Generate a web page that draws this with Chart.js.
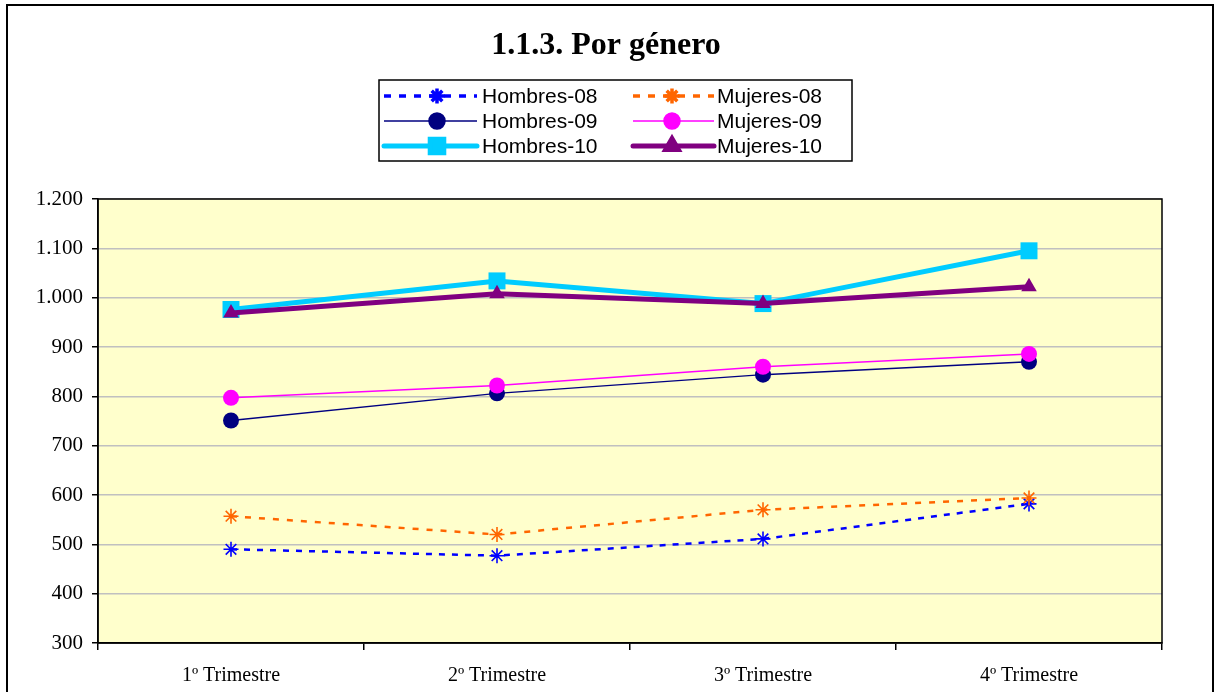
<!DOCTYPE html>
<html>
<head>
<meta charset="utf-8">
<script src="https://cdn.jsdelivr.net/npm/chart.js@4"></script>
<style>
  html, body { margin: 0; padding: 0; background: #fff; overflow: hidden; }
  #wrap { position: relative; width: 1222px; height: 692px; }
  #frame { position: absolute; left: 6px; top: 4px; width: 1208px; height: 700px; border: 2px solid #000; box-sizing: border-box; pointer-events: none; }
  canvas { position: absolute; left: 0; top: 0; }
</style>
</head>
<body>
<div id="wrap">
  <canvas id="chart" width="1222" height="692"></canvas>
  <div id="frame"></div>
</div>
<script>
/* ── datos ─────────────────────────────────────────────────── */
const trimestres = ['1º Trimestre', '2º Trimestre', '3º Trimestre', '4º Trimestre'];
const hombres08 = [490, 477, 511, 582];
const mujeres08 = [557, 520, 570, 594];
const hombres09 = [751, 806, 844, 870];
const mujeres09 = [797, 822, 860, 886];
const hombres10 = [976, 1034, 988, 1095];
const mujeres10 = [969, 1008, 988, 1022];

const C = {
    plotBg: '#FFFFCC',
    grid:   '#C0C0C0',
    axis:   '#000000',
};

const serif = "'Liberation Serif', 'Times New Roman', serif";
const sans  = "'Liberation Sans', Arial, sans-serif";

function fmtMiles(v) {
    return String(v).replace(/\B(?=(\d{3})+(?!\d))/g, '.');
}

/* ── series ────────────────────────────────────────────────── */
const series = [
    { label: 'Hombres-08', data: hombres08, color: '#0000FF', width: 2.5, dash: [6, 7], style: 'star',     r: 7.5, pbw: 1.6 },
    { label: 'Mujeres-08', data: mujeres08, color: '#FF6600', width: 2.5, dash: [6, 8], style: 'star',     r: 7.5, pbw: 1.6 },
    { label: 'Hombres-09', data: hombres09, color: '#000080', width: 1.5, dash: [],     style: 'circle',   r: 8,   pbw: 0 },
    { label: 'Mujeres-09', data: mujeres09, color: '#FF00FF', width: 1.5, dash: [],     style: 'circle',   r: 8,   pbw: 0 },
    { label: 'Hombres-10', data: hombres10, color: '#00CCFF', width: 5,   dash: [],     style: 'rect',     r: 12,  pbw: 0 },
    { label: 'Mujeres-10', data: mujeres10, color: '#800080', width: 5,   dash: [],     style: 'triangle', r: 9,   pbw: 0 },
];

/* ── plugin: fondo, marco, título y leyenda ────────────────── */
const excelLook = {
    id: 'excelLook',
    beforeDraw(chart) {
        const { ctx, chartArea: a } = chart;
        ctx.save();
        ctx.fillStyle = C.plotBg;
        ctx.fillRect(a.left, a.top, a.right - a.left, a.bottom - a.top);
        ctx.restore();
    },
    beforeDatasetsDraw(chart) {
        const { ctx, chartArea: a } = chart;
        ctx.save();
        ctx.strokeStyle = C.axis;
        ctx.lineWidth = 1.5;
        ctx.strokeRect(a.left, a.top, a.right - a.left, a.bottom - a.top);
        ctx.restore();
    },
    afterDraw(chart) {
        const ctx = chart.ctx;
        ctx.save();
        // título
        ctx.fillStyle = '#000';
        ctx.font = "bold 32px " + serif;
        ctx.textAlign = 'center';
        ctx.textBaseline = 'middle';
        ctx.fillText('1.1.3. Por género', 606, 46);

        // leyenda
        const box = { x: 379, y: 80, w: 473, h: 81 };
        ctx.fillStyle = '#fff';
        ctx.fillRect(box.x, box.y, box.w, box.h);
        ctx.strokeStyle = '#000';
        ctx.lineWidth = 1.5;
        ctx.strokeRect(box.x, box.y, box.w, box.h);

        const cols = [
            { x0: 384, x1: 477, mx: 437, tx: 482 },
            { x0: 633, x1: 714, mx: 672, tx: 717 },
        ];
        const rows = [96, 121, 146];
        ctx.font = "21px " + sans;
        ctx.textAlign = 'left';
        series.forEach((s, i) => {
            const col = cols[i % 2], y = rows[Math.floor(i / 2)];
            ctx.save();
            ctx.strokeStyle = s.color;
            ctx.lineWidth = s.width === 2.5 ? 3.5 : s.width;
            ctx.lineCap = s.width >= 5 ? 'round' : 'butt';
            ctx.setLineDash(s.dash.length ? [7, 8] : []);
            ctx.beginPath();
            ctx.moveTo(col.x0, y);
            ctx.lineTo(col.x1, y);
            ctx.stroke();
            ctx.setLineDash([]);
            ctx.fillStyle = s.color;
            ctx.strokeStyle = s.color;
            const k = (s.style === 'rect' || s.style === 'triangle') ? 0.8 : 1;
            Chart.helpers.drawPoint(ctx, {
                pointStyle: s.style, radius: s.r * k, rotation: 0,
                borderWidth: s.pbw || 0.01,
            }, col.mx, y);
            ctx.restore();
            ctx.fillStyle = '#000';
            ctx.textBaseline = 'middle';
            ctx.fillText(s.label, col.tx, y + 1);
        });
        ctx.restore();
    }
};

/* ── gráfico ───────────────────────────────────────────────── */
const ctx = document.getElementById('chart').getContext('2d');

new Chart(ctx, {
    type: 'line',
    data: {
        labels: trimestres,
        datasets: series.map((s, i) => ({
            label: s.label,
            data: s.data,
            borderColor: s.color,
            backgroundColor: s.color,
            borderWidth: s.width,
            borderDash: s.dash,
            pointStyle: s.style,
            pointRadius: s.r,
            pointHoverRadius: s.r,
            pointBackgroundColor: s.color,
            pointBorderColor: s.color,
            pointBorderWidth: s.pbw,
            tension: 0,
            fill: false,
            order: series.length - i,
        }))
    },
    options: {
        responsive: false,
        animation: false,
        layout: { padding: { left: 0, top: 199, right: 60, bottom: 0 } },
        plugins: {
            legend: { display: false },
            title: { display: false },
            tooltip: { enabled: false },
        },
        scales: {
            x: {
                offset: true,
                grid: {
                    offset: true,
                    drawOnChartArea: false,
                    drawTicks: true,
                    tickLength: 7,
                    color: C.axis,
                    lineWidth: 1.5,
                },
                border: { display: true, color: C.axis, width: 1.5 },
                ticks: {
                    color: '#000',
                    font: { family: serif, size: 20 },
                    padding: 14,
                    maxRotation: 0,
                },
                afterFit: s => { s.height = 49; },
            },
            y: {
                min: 300,
                max: 1200,
                grid: {
                    color: C.grid,
                    lineWidth: 1.5,
                    tickColor: C.axis,
                    tickLength: 6,
                    drawTicks: true,
                },
                border: { display: true, color: C.axis, width: 1.5 },
                ticks: {
                    stepSize: 100,
                    color: '#000',
                    font: { family: serif, size: 21 },
                    padding: 9,
                    callback: v => fmtMiles(v),
                },
                afterFit: s => { s.width = 98; },
            }
        }
    },
    plugins: [excelLook]
});
</script>
</body>
</html>
